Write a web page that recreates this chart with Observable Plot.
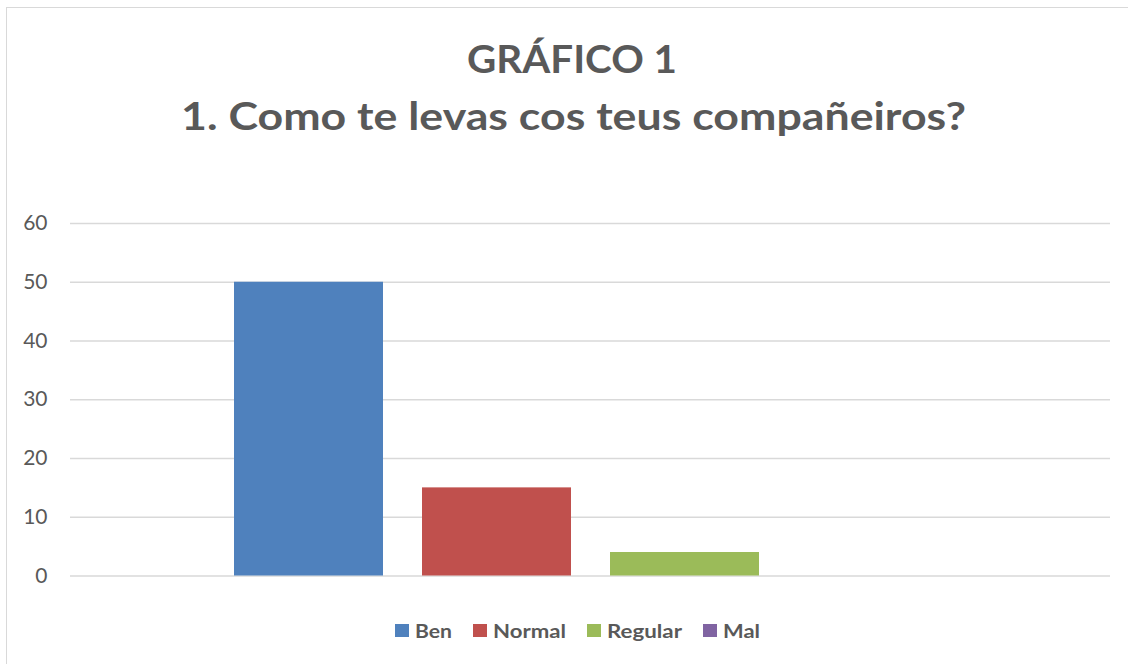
<!DOCTYPE html>
<html>
<head>
<meta charset="utf-8">
<script src="https://cdn.jsdelivr.net/npm/d3@7"></script>
<script src="https://cdn.jsdelivr.net/npm/@observablehq/plot@0.6"></script>
<style>
  html, body { margin: 0; padding: 0; background: #fff; }
  body { width: 1128px; height: 664px; position: relative; overflow: hidden; font-family: Lato, "Open Sans", sans-serif; }
  #frame { position: absolute; left: 6px; top: 7px; width: 1200px; height: 800px; border: 1.5px solid #d9d9d9; box-sizing: border-box; }
  #title { position: absolute; left: 0; top: 0; }
  #chart { position: absolute; left: 0; top: 190px; }
  #legend { position: absolute; left: 0; top: 610px; }
</style>
</head>
<body>
<div id="frame"></div>
<svg id="title" width="1128" height="190"></svg>
<div id="chart"></div>
<svg id="legend" width="1128" height="50"></svg>
<script>
const titleLines = ["GRÁFICO 1", "1. Como te levas cos teus compañeiros?"];
const categories = ["Ben", "Normal", "Regular", "Mal"];
const values = [50, 15, 4, 0];
const yTicks = [0, 10, 20, 30, 40, 50, 60];
const colors = ["#4f81bd", "#c0504d", "#9bbb59", "#8064a2"];

const data = categories.map((c, i) => ({category: c, value: values[i]}));

// Title
const titleSvg = d3.select("#title");
const titleLayout = [
  {x: 572, y: 73, len: 210},
  {x: 573.5, y: 130, len: 785}
];
titleLines.forEach((t, i) => {
  titleSvg.append("text")
    .attr("x", titleLayout[i].x)
    .attr("y", titleLayout[i].y)
    .attr("text-anchor", "middle")
    .attr("font-family", "Lato, sans-serif")
    .attr("font-weight", "bold")
    .attr("font-size", 39)
    .attr("fill", "#595959")
    .attr("textLength", titleLayout[i].len)
    .attr("lengthAdjust", "spacingAndGlyphs")
    .text(t);
});

// Chart
const chart = Plot.plot({
  width: 1128,
  height: 420,
  marginLeft: 70,
  marginRight: 18,
  marginTop: 33,
  marginBottom: 34.5,
  style: {background: "transparent", fontFamily: "Lato, sans-serif"},
  x: {domain: categories, paddingInner: 0.2095, paddingOuter: 0.8635, align: 0.5, axis: null},
  y: {domain: [0, 60], axis: null},
  color: {domain: categories, range: colors},
  marks: [
    Plot.gridY(yTicks, {stroke: "#d9d9d9", strokeOpacity: 1, strokeWidth: 1.4}),
    Plot.axisY(yTicks, {tickSize: 0, tickPadding: 23, fontSize: 21, fill: "#595959", label: null}),
    Plot.barY(data, {x: "category", y: "value", fill: "category"})
  ]
});
document.getElementById("chart").appendChild(chart);

// Legend
const legendSvg = d3.select("#legend");
const legendX = [395, 473, 587, 703];
const legendTextLen = [37, 73, 75, 37];
categories.forEach((c, i) => {
  legendSvg.append("rect")
    .attr("x", legendX[i]).attr("y", 14)
    .attr("width", 14).attr("height", 13)
    .attr("fill", chart.scale("color").apply(c));
  legendSvg.append("text")
    .attr("x", legendX[i] + 20).attr("y", 28)
    .attr("font-family", "Lato, sans-serif")
    .attr("font-weight", "bold")
    .attr("font-size", 19)
    .attr("fill", "#595959")
    .attr("textLength", legendTextLen[i])
    .attr("lengthAdjust", "spacingAndGlyphs")
    .text(c);
});
</script>
</body>
</html>
